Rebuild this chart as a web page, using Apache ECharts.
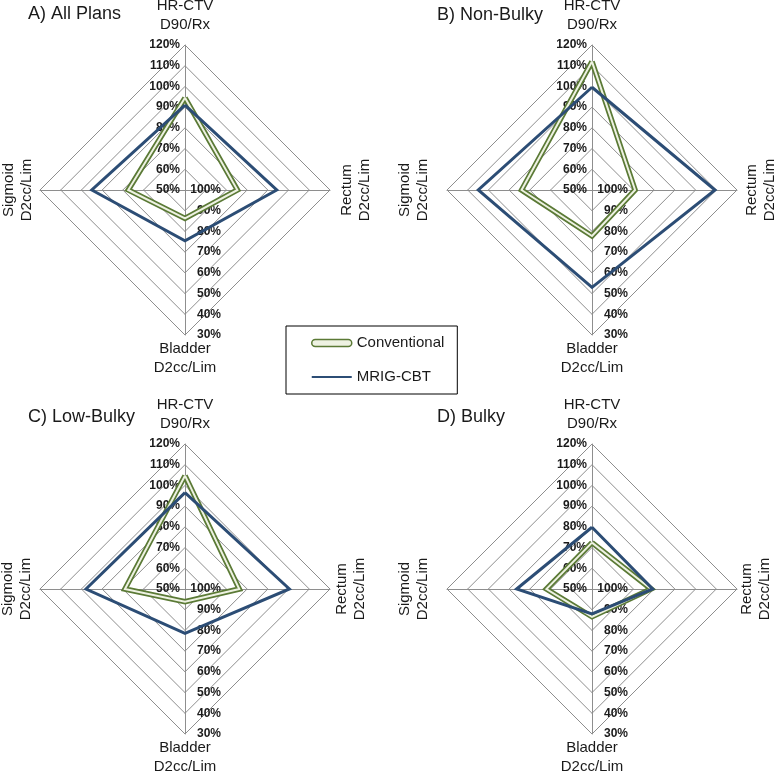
<!DOCTYPE html>
<html>
<head>
<meta charset="utf-8">
<script src="https://cdn.jsdelivr.net/npm/echarts@6/dist/echarts.min.js"></script>
<style>
  html, body { margin: 0; padding: 0; background: #fff; }
  #chart { width: 775px; height: 773px; }
</style>
</head>
<body>
<div id="chart"></div>
<script>
// ---- Data (percent values) ----
// Indicator order: HR-CTV D90/Rx, Sigmoid D2cc/Lim, Bladder D2cc/Lim, Rectum D2cc/Lim
const indicatorKeys = ['HR-CTV', 'Sigmoid', 'Bladder', 'Rectum'];
const indicatorLabels = ['HR-CTV\nD90/Rx', 'Sigmoid\nD2cc/Lim', 'Bladder\nD2cc/Lim', 'Rectum\nD2cc/Lim'];
const panelTitles = ['A) All Plans', 'B) Non-Bulky', 'C) Low-Bulky', 'D) Bulky'];
const seriesNames = ['Conventional', 'MRIG-CBT'];

const allPlansConv = [94.5, 72.6, 86.3, 74.7];
const allPlansMrig = [91.0, 55.0, 75.5, 55.7];
const nonBulkyConv = [112.0, 66.0, 77.8, 79.2];
const nonBulkyMrig = [99.6, 45.1, 53.0, 40.6];
const lowBulkyConv = [104.7, 71.0, 93.9, 73.8];
const lowBulkyMrig = [96.5, 52.2, 78.6, 49.6];
const bulkyConv = [72.4, 78.0, 86.6, 71.5];
const bulkyMrig = [79.8, 63.6, 88.0, 70.7];

// Axis ranges: target axis 50%..120% outward; organ axes 100%..30% outward
const targetMin = 50, targetMax = 120;
const organMin = 100, organMax = 30;
const tickStep = 10;

// ---- Layout ----
const panels = [
  { cx: 185, cy: 190, conv: allPlansConv, mrig: allPlansMrig, tx: 28, ty: 14, left: -167, right: 171 },
  { cx: 592, cy: 190, conv: nonBulkyConv, mrig: nonBulkyMrig, tx: 437, ty: 15, left: -178, right: 169 },
  { cx: 185, cy: 589, conv: lowBulkyConv, mrig: lowBulkyMrig, tx: 28, ty: 417, left: -168, right: 166 },
  { cx: 592, cy: 589, conv: bulkyConv, mrig: bulkyMrig, tx: 437, ty: 417, left: -178, right: 164 }
];

const FONT = '"Liberation Sans", Arial, sans-serif';
const GREEN = '#5b7a36';
const GREEN_IN = '#eef2e2';
const BLUE = '#2c4d75';
const GRID = '#8e8e8e';
const TXT = '#1a1a1a';

// organ axes are drawn on a negated value scale so that 100% sits at the centre
const toRadar = vals => vals.map((v, i) => (i === 0 ? v : -v));
const pct = v => Math.abs(Math.round(v)) + '%';

const tickLabelStyle = { fontFamily: FONT, fontSize: 12, fontWeight: 'bold', color: TXT, formatter: pct };

const radars = panels.map(p => ({
  center: [p.cx, p.cy],
  radius: 145,
  startAngle: 90,
  splitNumber: (targetMax - targetMin) / tickStep,
  shape: 'polygon',
  axisName: { show: false },
  splitArea: { show: false },
  splitLine: { lineStyle: { color: GRID, width: 1 } },
  axisLine: { lineStyle: { color: GRID, width: 1 } },
  axisTick: { show: false },
  axisLabel: { show: false },
  indicator: [
    { name: indicatorKeys[0], min: targetMin, max: targetMax,
      axisLabel: Object.assign({ show: true, margin: 5 }, tickLabelStyle) },
    { name: indicatorKeys[1], min: -organMin, max: -organMax },
    { name: indicatorKeys[2], min: -organMin, max: -organMax,
      axisLabel: Object.assign({ show: true, margin: 36, align: 'right' }, tickLabelStyle) },
    { name: indicatorKeys[3], min: -organMin, max: -organMax }
  ]
}));

const series = [];
panels.forEach((p, i) => {
  series.push({
    type: 'radar', radarIndex: i, name: seriesNames[0], symbol: 'none', silent: true, z: 2,
    itemStyle: { color: GREEN },
    lineStyle: { color: GREEN, width: 5.5, join: 'miter' },
    data: [{ value: toRadar(p.conv), name: seriesNames[0] }]
  });
  series.push({
    type: 'radar', radarIndex: i, name: seriesNames[0] + ' (inner)', symbol: 'none', silent: true, z: 3,
    itemStyle: { color: GREEN_IN },
    lineStyle: { color: GREEN_IN, width: 2, join: 'miter' },
    data: [{ value: toRadar(p.conv), name: seriesNames[0] }]
  });
  series.push({
    type: 'radar', radarIndex: i, name: seriesNames[1], symbol: 'none', silent: true, z: 4,
    itemStyle: { color: BLUE },
    lineStyle: { color: BLUE, width: 3, join: 'miter' },
    data: [{ value: toRadar(p.mrig), name: seriesNames[1] }]
  });
});

const graphics = [];
panels.forEach((p, i) => {
  graphics.push({ type: 'text', x: p.tx, y: p.ty, silent: true,
    style: { text: panelTitles[i], font: '18px ' + FONT, fill: TXT, align: 'left', verticalAlign: 'middle' } });
  graphics.push({ type: 'text', x: p.cx, y: p.cy - 175, silent: true,
    style: { text: indicatorLabels[0], font: '15px ' + FONT, lineHeight: 19, fill: TXT, align: 'center', verticalAlign: 'middle' } });
  graphics.push({ type: 'text', x: p.cx, y: p.cy + 168, silent: true,
    style: { text: indicatorLabels[2], font: '15px ' + FONT, lineHeight: 19, fill: TXT, align: 'center', verticalAlign: 'middle' } });
  graphics.push({ type: 'text', x: p.cx + p.left, y: p.cy, rotation: Math.PI / 2, silent: true,
    style: { text: indicatorLabels[1], font: '15px ' + FONT, lineHeight: 18, fill: TXT, align: 'center', verticalAlign: 'middle' } });
  graphics.push({ type: 'text', x: p.cx + p.right, y: p.cy, rotation: Math.PI / 2, silent: true,
    style: { text: indicatorLabels[3], font: '15px ' + FONT, lineHeight: 18, fill: TXT, align: 'center', verticalAlign: 'middle' } });
});

const option = {
  animation: false,
  backgroundColor: '#fff',
  legend: {
    left: 286, top: 326,
    orient: 'vertical',
    borderColor: '#000', borderWidth: 1,
    padding: [8, 13, 8, 25],
    itemWidth: 40, itemHeight: 7, itemGap: 16,
    selectedMode: false,
    textStyle: { fontFamily: FONT, fontSize: 15, lineHeight: 18, color: TXT },
    data: [
      { name: seriesNames[0], icon: 'path://M3.5,0 L36.5,0 A3.5,3.5 0 0 1 36.5,7 L3.5,7 A3.5,3.5 0 0 1 3.5,0 Z',
        itemStyle: { color: GREEN_IN, borderColor: GREEN, borderWidth: 1.5 } },
      { name: seriesNames[1], icon: 'path://M0,0 L40,0 L40,2 L0,2 Z', itemStyle: { color: BLUE } }
    ]
  },
  radar: radars,
  series: series,
  graphic: graphics
};

const chart = echarts.init(document.getElementById('chart'), null, { renderer: 'canvas' });
chart.setOption(option);
</script>
</body>
</html>
